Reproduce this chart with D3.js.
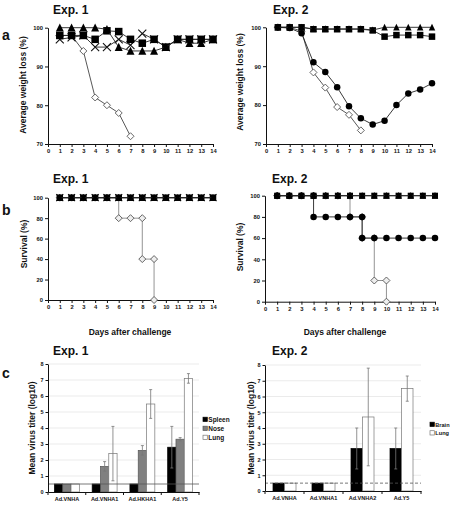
<!DOCTYPE html>
<html><head><meta charset="utf-8">
<script src="https://cdn.jsdelivr.net/npm/d3@7"></script>
<style>
body{margin:0;background:#fff;}
svg{display:block;font-family:"Liberation Sans",Arial,sans-serif;}
</style></head>
<body><svg id="c" width="450" height="506"></svg>
<script>
// ---------------- DATA ----------------
const days = [1,2,3,4,5,6,7,8,9,10,11,12,13,14];
const weightTicks = [70,80,90,100];
const survivalTicks = [0,20,40,60,80,100];
const dayTicks = [0,1,2,3,4,5,6,7,8,9,10,11,12,13,14];

// Panel a, Exp. 1 (average weight, %)
const w1Diamond  = [98,98,94,82,80,78,72];
const w1Cross    = [97,97.5,98,95,95,97,95.5,98.5,97,95,97,97,97,97];
const w1Square   = [98,98,98,97,99.2,99,97,96,97,95,97,97,97,97];
const w1Triangle = [100,100,100,100,99.6,95,94,94,94,95,97,96,96,97];

// Panel a, Exp. 2
const w2Diamond  = [100,100,99,88.4,84.5,79.5,77.5,73.5];
const w2Circle   = [100,99.8,98.5,91,88.5,84.6,79.7,76.6,75,76,80,83,84,85.6];
const w2Square   = [100,100,100,99.5,99.5,99.5,99.5,99.5,99.2,97.6,98,98,98,97.6];
const w2Triangle = [100,100,100,99.6,99.6,99.6,99.6,99.6,99.3,100,100,100,100,100];

// Panel b, Exp. 1 (survival, %)
const s1DiamondDays = [1,2,3,4,5,6,6,7,8,8,9,9];
const s1Diamond     = [100,100,100,100,100,100,80,80,80,40,40,0];
const s1Cross    = [100,100,100,100,100,100,100,100,100,100,100,100,100,100];
const s1Square   = [100,100,100,100,100,100,100,100,100,100,100,100,100,100];
const s1Triangle = [100,100,100,100,100,100,100,100,100,100,100,100,100,100];

// Panel b, Exp. 2
const s2DiamondDays = [1,2,3,4,5,6,7,7,8,8,9,9,10,10];
const s2Diamond     = [100,100,100,100,100,100,100,80,80,60,60,20,20,0];
const s2CircleDays  = [1,2,3,4,4,5,6,7,8,8,9,10,11,12,13,14];
const s2Circle      = [100,100,100,100,80,80,80,80,80,60,60,60,60,60,60,60];
const s2Square   = [100,100,100,100,100,100,100,100,100,100,100,100,100,100];
const s2Triangle = [100,100,100,100,100,100,100,100,100,100,100,100,100,100];

// Panel c, Exp. 1 (mean virus titer, log10)
const c1Groups = ["Ad.VNHA","Ad.VNHA1","Ad.HKHA1","Ad.Y5"];
const c1Series = ["Spleen","Nose","Lung"];
const c1Spleen = [0.5,0.5,0.5,2.8];
const c1Nose   = [0.5,1.6,2.6,3.3];
const c1Lung   = [0.5,2.4,5.5,7.1];
const c1SpleenErr = [0,0,0,1.3];
const c1NoseErr   = [0,0.3,0.3,0.1];
const c1LungErr   = [0,1.7,0.9,0.3];

// Panel c, Exp. 2
const c2Groups = ["Ad.VNHA","Ad.VNHA1","Ad.VNHA2","Ad.Y5"];
const c2Series = ["Brain","Lung"];
const c2Brain = [0.5,0.5,2.7,2.7];
const c2Lung  = [0.5,0.5,4.7,6.5];
const c2BrainErr = [0,0,1.3,1.3];
const c2LungErr  = [0,0,3.1,0.8];
const titerTicks = [0,1,2,3,4,5,6,7,8];
const detectionLimit = 0.5;

// ---------------- DRAW ----------------
const svg = d3.select("#c");
const FONT = '"Liberation Sans",Arial,sans-serif';

function txt(x,y,s,size,opts={}){
  const t = svg.append("text").attr("x",x).attr("y",y).text(s)
    .attr("font-size",size).attr("font-weight","bold").attr("fill","#111")
    .attr("font-family",FONT);
  if(opts.anchor) t.attr("text-anchor",opts.anchor);
  if(opts.rotate) t.attr("transform",`rotate(-90,${x},${y})`);
  return t;
}

function styleAxis(g,size){
  g.attr("font-family",FONT).attr("font-size",size).attr("font-weight","bold");
  g.selectAll("path,line").attr("stroke","#111").attr("stroke-width",1);
  g.selectAll("text").attr("fill","#111");
}

function marker(g,shape,x,y,s,fill,stroke){
  if(shape==="square"){
    g.append("rect").attr("x",x-s/2).attr("y",y-s/2).attr("width",s).attr("height",s)
     .attr("fill","#000");
  } else if(shape==="triangle"){
    const h=s*0.95;
    g.append("path").attr("d",`M${x},${y-h/2-0.5}L${x+s/2},${y+h/2}L${x-s/2},${y+h/2}Z`).attr("fill","#000");
  } else if(shape==="circle"){
    g.append("circle").attr("cx",x).attr("cy",y).attr("r",s/2).attr("fill","#000");
  } else if(shape==="diamond"){
    const r=s/2+0.5;
    g.append("path").attr("d",`M${x},${y-r}L${x+r},${y}L${x},${y+r}L${x-r},${y}Z`)
     .attr("fill",fill||"#fff").attr("stroke",stroke||"#555").attr("stroke-width",0.9);
  } else if(shape==="cross"){
    const r=s/2+0.5;
    g.append("path").attr("d",`M${x-r},${y-r}L${x+r},${y+r}M${x+r},${y-r}L${x-r},${y+r}`)
     .attr("stroke","#111").attr("stroke-width",1.1).attr("fill","none");
  }
}

function linePanel(cfg){
  const x = d3.scaleLinear().domain([0,14]).range(cfg.xr);
  const y = d3.scaleLinear().domain(cfg.ydom).range(cfg.yr);
  const gx = svg.append("g").attr("transform",`translate(0,${cfg.yr[0]})`)
    .call(d3.axisBottom(x).tickValues(dayTicks).tickSize(3).tickPadding(2).tickSizeOuter(0));
  styleAxis(gx,5.8);
  const gy = svg.append("g").attr("transform",`translate(${cfg.xr[0]},0)`)
    .call(d3.axisLeft(y).tickValues(cfg.yticks).tickSize(3).tickPadding(2).tickSizeOuter(0));
  styleAxis(gy,5.8);
  const g = svg.append("g");
  cfg.series.forEach(s=>{
    const xs = s.xs || days.slice(0,s.ys.length);
    const pts = xs.map((d,i)=>[x(d),y(s.ys[i])]);
    g.append("path").attr("d",d3.line()(pts)).attr("fill","none")
      .attr("stroke",s.line||"#222").attr("stroke-width",s.lw||0.9);
    pts.forEach(p=>marker(g,s.shape,p[0],p[1],s.size||7,s.fill,s.stroke));
  });
}

// Panel a
linePanel({xr:[48,213], yr:[144,27.7], ydom:[70,100], yticks:weightTicks, series:[
  {ys:w1Diamond, shape:"diamond", line:"#444", size:6},
  {ys:w1Cross, shape:"cross", size:7},
  {ys:w1Square, shape:"square", size:7.5},
  {ys:w1Triangle, shape:"triangle", size:8}
]});
linePanel({xr:[266,432], yr:[144,27.3], ydom:[70,100], yticks:weightTicks, series:[
  {ys:w2Diamond, shape:"diamond", line:"#444", size:6},
  {ys:w2Circle, shape:"circle", size:6.5},
  {ys:w2Square, shape:"square", size:6.5},
  {ys:w2Triangle, shape:"triangle", size:6.5}
]});
// Panel b
linePanel({xr:[48,213], yr:[300,197.7], ydom:[0,100], yticks:survivalTicks, series:[
  {xs:s1DiamondDays, ys:s1Diamond, shape:"diamond", line:"#888", fill:"#eee", stroke:"#555", size:6},
  {ys:s1Cross, shape:"cross", size:6},
  {ys:s1Square, shape:"square", size:6.5},
  {ys:s1Triangle, shape:"triangle", size:6.5}
]});
linePanel({xr:[265,435], yr:[301.7,195.7], ydom:[0,100], yticks:survivalTicks, series:[
  {xs:s2DiamondDays, ys:s2Diamond, shape:"diamond", line:"#888", fill:"#eee", stroke:"#555", size:6},
  {xs:s2CircleDays, ys:s2Circle, shape:"circle", size:6.5},
  {ys:s2Square, shape:"square", size:6},
  {ys:s2Triangle, shape:"triangle", size:6.5}
]});

// Panel c
function barPanel(cfg){
  const x = d3.scaleBand().domain(cfg.groups).range(cfg.xr).paddingInner(cfg.pad).paddingOuter(cfg.pad/2);
  const step = (cfg.xr[1]-cfg.xr[0])/cfg.groups.length;
  const inner = d3.scaleBand().domain(cfg.series).range([0,x.bandwidth()]);
  const y = d3.scaleLinear().domain([0,8]).range(cfg.yr);
  titerTicks.slice(1).forEach(t=>{
    svg.append("line").attr("x1",cfg.xr[0]).attr("x2",cfg.xr[1]).attr("y1",y(t)).attr("y2",y(t))
      .attr("stroke","#e6e6e6").attr("stroke-width",0.8);
  });
  const g = svg.append("g");
  cfg.series.forEach((s,si)=>{
    cfg.values[si].forEach((v,i)=>{
      const bx = x(cfg.groups[i])+inner(s);
      g.append("rect").attr("x",bx).attr("y",y(v)).attr("width",inner.bandwidth()).attr("height",y(0)-y(v))
        .attr("fill",cfg.fills[si]).attr("stroke",cfg.strokes[si]).attr("stroke-width",0.7);
      const e = cfg.errs[si][i];
      if(e>0){
        const cx = bx+inner.bandwidth()/2;
        g.append("path").attr("d",`M${cx},${y(v-e)}V${y(v+e)}M${cx-1.5},${y(v+e)}H${cx+1.5}M${cx-1.5},${y(v-e)}H${cx+1.5}`)
          .attr("stroke","#777").attr("stroke-width",0.8).attr("fill","none");
      }
    });
  });
  svg.append("line").attr("x1",cfg.xr[0]).attr("x2",cfg.xr[1]).attr("y1",y(detectionLimit)).attr("y2",y(detectionLimit))
    .attr("stroke","#555").attr("stroke-width",0.8).attr("stroke-dasharray",cfg.dash||null);
  const gy = svg.append("g").attr("transform",`translate(${cfg.xr[0]},0)`)
    .call(d3.axisLeft(y).tickValues(titerTicks).tickSize(2.5).tickPadding(2).tickSizeOuter(0));
  styleAxis(gy,5.5);
  const gx = svg.append("g").attr("transform",`translate(0,${cfg.yr[0]})`)
    .call(d3.axisBottom(x).tickSize(0).tickPadding(5).tickSizeOuter(0));
  styleAxis(gx,5.5);
  d3.range(cfg.groups.length+1).forEach(i=>{
    const px = cfg.xr[0]+i*step;
    svg.append("line").attr("x1",px).attr("x2",px).attr("y1",cfg.yr[0]).attr("y2",cfg.yr[0]+3)
      .attr("stroke","#111").attr("stroke-width",1);
  });
  cfg.series.forEach((s,si)=>{
    const ly = cfg.leg[1]+si*cfg.legStep;
    svg.append("rect").attr("x",cfg.leg[0]).attr("y",ly-4.3).attr("width",4.3).attr("height",4.3)
      .attr("fill",cfg.fills[si]).attr("stroke",cfg.strokes[si]).attr("stroke-width",0.7);
    txt(cfg.leg[0]+5.3,ly,s,cfg.legFont);
  });
}
barPanel({xr:[48,199], yr:[492,364], groups:c1Groups, series:c1Series, pad:0.34,
  values:[c1Spleen,c1Nose,c1Lung], errs:[c1SpleenErr,c1NoseErr,c1LungErr],
  fills:["#000","#808080","#fff"], strokes:["#000","#555","#777"], leg:[203,421.5], legStep:9, legFont:6.5});
barPanel({xr:[265,421], yr:[491,365], groups:c2Groups, series:c2Series, pad:0.41,
  values:[c2Brain,c2Lung], errs:[c2BrainErr,c2LungErr], dash:"3,2",
  fills:["#000","#fff"], strokes:["#000","#777"], leg:[430,426.5], legStep:8.5, legFont:5.6});

// Titles & labels
txt(53,13.5,"Exp. 1",12); txt(273,13.5,"Exp. 2",12);
txt(53,183,"Exp. 1",12); txt(272,183,"Exp. 2",12);
txt(53,355,"Exp. 1",12); txt(272,355,"Exp. 2",12);
txt(2,40,"a",14); txt(2,214.5,"b",14); txt(2,378,"c",14);
txt(26,85,"Average weight loss (%)",8.5,{anchor:"middle",rotate:true});
txt(243,82,"Average weight loss (%)",8.5,{anchor:"middle",rotate:true});
txt(27,244,"Survival (%)",8.5,{anchor:"middle",rotate:true});
txt(243,247,"Survival (%)",8.5,{anchor:"middle",rotate:true});
txt(130,335,"Days after challenge",8.5,{anchor:"middle"});
txt(345,335,"Days after challenge",8.5,{anchor:"middle"});
txt(35,428,"Mean virus titer (log10)",8.5,{anchor:"middle",rotate:true});
txt(254,428,"Mean virus titer (log10)",8.5,{anchor:"middle",rotate:true});
</script></body></html>
